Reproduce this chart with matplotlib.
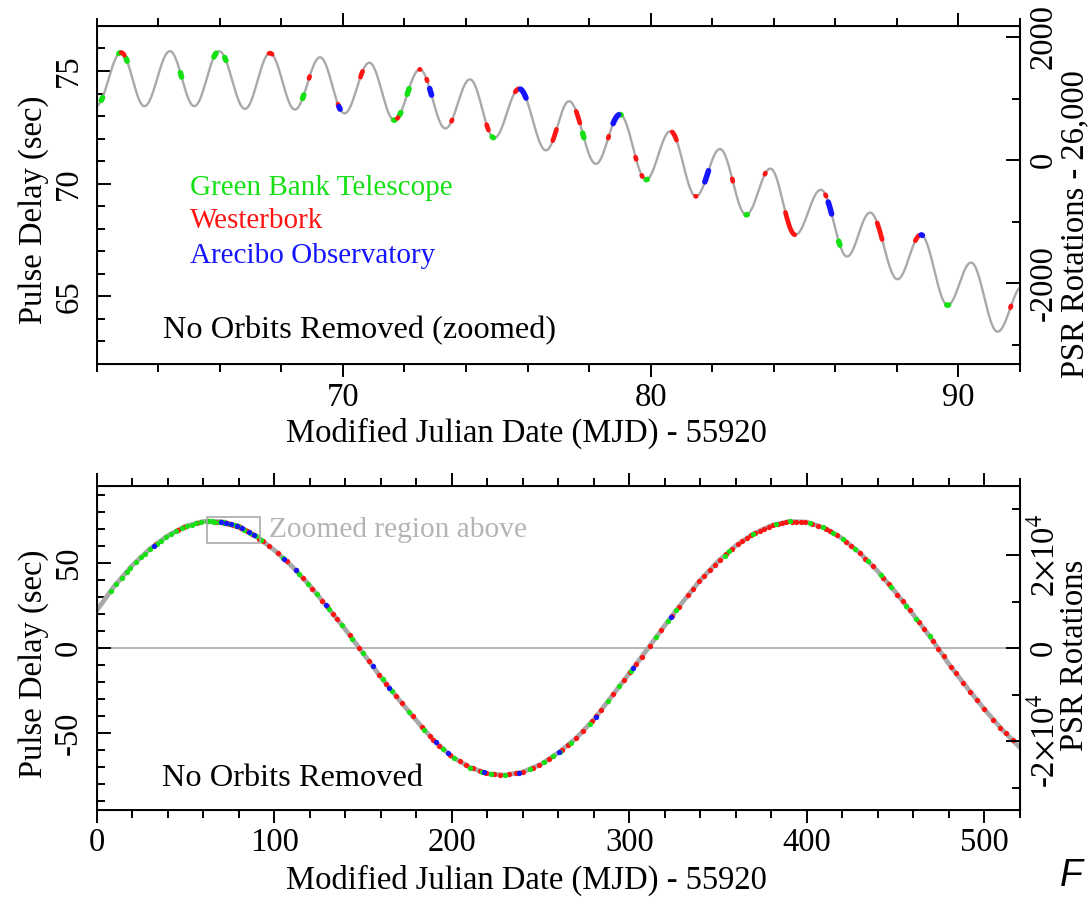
import numpy as np
import matplotlib.pyplot as plt
from matplotlib.patches import Rectangle

plt.rcParams['font.family'] = ['Liberation Serif', 'DejaVu Serif']
plt.rcParams['mathtext.fontset'] = 'stix'
plt.rcParams['axes.unicode_minus'] = False

# pulsar spin period (sec) -> right-hand "PSR Rotations" axes
PSR_PERIOD = 0.0027326
ROT_OFFSET = 26000

GREEN = '#14e014'
RED = '#ff1414'
BLUE = '#1414ff'
GRAY = '#a9a9a9'

# ---- top panel (zoomed) ----
ZOOM_X = (62, 92)
ZOOM_Y = (62, 77)

# turning points of the timing model curve
turn_day = [61.98, 62.79, 63.55, 64.38, 65.17, 65.98, 66.82, 67.63, 68.44, 69.26,
            70.05, 70.86, 71.67, 72.50, 73.33, 74.13, 74.92, 75.73, 76.60, 77.35,
            78.22, 79.00, 79.85, 80.64, 81.47, 82.25, 83.10, 83.89, 84.70, 85.53,
            86.38, 87.13, 88.02, 88.78, 89.65, 90.41, 91.27, 92.08]
turn_delay = [73.45, 75.82, 73.44, 75.88, 73.44, 75.88, 73.32, 75.79, 73.29, 75.61,
              73.12, 75.37, 72.82, 75.07, 72.45, 74.63, 72.03, 74.21, 71.48, 73.66,
              70.88, 73.07, 70.18, 72.33, 69.44, 71.54, 68.62, 70.67, 67.73, 69.73,
              66.77, 68.72, 65.76, 67.73, 64.61, 66.50, 63.43, 65.45]

# observing sessions in the zoomed window (start day, end day)
gbt_sessions = [(62.15, 62.19), (62.72, 62.76), (62.95, 62.99), (64.72, 64.76),
                (65.81, 65.88), (66.16, 66.20), (68.69, 68.73), (71.65, 71.69),
                (71.84, 71.88), (72.09, 72.15), (74.85, 74.89), (77.79, 77.83),
                (79.00, 79.04), (79.85, 79.89), (83.10, 83.14), (86.11, 86.15),
                (89.62, 89.68)]
wsrt_sessions = [(62.80, 62.90), (67.60, 67.70), (68.90, 68.92), (69.84, 69.86),
                 (70.57, 70.64), (71.77, 71.79), (72.49, 72.51), (72.72, 72.74),
                 (73.53, 73.55), (74.67, 74.73), (75.60, 75.72), (76.82, 76.94),
                 (77.58, 77.70), (78.62, 78.64), (79.51, 79.53), (79.71, 79.73),
                 (80.70, 80.84), (81.46, 81.48), (82.65, 82.67), (83.71, 83.73),
                 (84.38, 84.68), (85.68, 85.70), (87.36, 87.52), (88.60, 88.73),
                 (91.69, 91.71)]
ao_sessions = [(69.87, 69.91), (72.82, 72.88), (75.77, 75.95), (78.78, 78.96),
               (81.76, 81.88), (85.77, 85.88), (88.79, 88.83)]

# ---- bottom panel (full span) ----
full_day = list(range(0, 530, 10))
full_delay = [22.0, 36.5, 48.5, 58.3, 66.0, 71.6, 74.4, 74.3, 71.4, 65.6,
              57.6, 48.0, 36.8, 24.0, 11.0, -3.0, -17.0, -30.0, -42.5, -54.5,
              -63.8, -70.0, -73.8, -74.7, -72.8, -68.4, -61.5, -53.0, -42.0, -28.5,
              -14.8, -0.8, 13.3, 27.0, 40.0, 51.0, 60.2, 67.2, 72.0, 74.4,
              74.0, 70.5, 64.3, 55.7, 45.0, 32.7, 19.5, 5.7, -9.5, -23.0,
              -36.0, -48.0, -58.5]

# observation days outside the zoomed window
gbt_days = [8, 11, 14, 17, 19, 22, 25, 27, 30, 34, 36, 39, 42, 44.5, 48, 51, 53.5,
            56, 59, 92.5, 105, 114, 119, 124, 131, 138, 144, 150, 161, 166.5, 176,
            184.5, 195, 201, 210.5, 217, 222, 230, 244, 252, 257, 260.7, 267, 277.6,
            287.9, 294.4, 301, 315.1, 321.7, 326.4, 353.6, 356.4, 369.6, 382.7,
            390.2, 401.5, 409, 414.6, 420.3, 426.9, 434.4, 441.9, 447.5, 456,
            461.6, 469.1]
wsrt_days = [33.5, 46, 49, 56.5, 93.5, 97, 102, 107, 112, 116, 121.5, 127, 129.5,
             133, 135.5, 142.5, 148, 153.5, 159, 163, 168.5, 172, 178, 183, 187.5,
             189.5, 193, 199, 204.5, 208, 212, 216, 219.5, 224, 227, 232.5, 236,
             240, 245.5, 249, 255, 262, 265.5, 270, 274, 279, 281.5, 284, 291, 297,
             300.5, 304, 307, 311.5, 318, 324, 328, 333, 336, 339.5, 342, 345.5,
             348, 351, 354.5, 358, 361, 363.5, 366, 368.5, 371, 373.5, 376, 378.5,
             381, 383.5, 386, 388, 391.5, 394, 396.5, 399, 403, 406, 411, 413, 417,
             422, 425, 430, 433, 437, 443, 446, 451, 454, 458, 463, 466, 471, 474,
             477, 481, 484, 488, 492, 496, 500, 505, 509, 512, 516]
ao_days = [32.3, 105.6, 112, 129, 155.5, 164.8, 191, 197.7, 218, 238, 260.3,
           281.3, 302, 323.6]


def turning_curve(x, tx, ty):
    # smooth line through the turning points (half-cosine between them)
    tx = np.asarray(tx)
    ty = np.asarray(ty)
    i = np.clip(np.searchsorted(tx, x) - 1, 0, len(tx) - 2)
    f = (x - tx[i]) / (tx[i + 1] - tx[i])
    return ty[i] + (ty[i + 1] - ty[i]) * (1 - np.cos(np.pi * f)) / 2


def style_axes(ax, fs=23.5):
    for s in ax.spines.values():
        s.set_linewidth(1.4)
    ax.tick_params(axis='x', which='both', direction='out', top=True,
                   width=1.4, labelsize=fs, pad=3.5)
    ax.tick_params(axis='x', which='major', length=9.5)
    ax.tick_params(axis='x', which='minor', length=5.5)
    ax.tick_params(axis='y', which='both', direction='in', right=False,
                   width=1.4, labelsize=fs, pad=9)
    ax.tick_params(axis='y', which='major', length=10)
    ax.tick_params(axis='y', which='minor', length=5.5)
    for t in ax.get_yticklabels():
        t.set_rotation(90)
        t.set_va('center')


def style_right(axr, fs=23.5):
    axr.tick_params(axis='y', which='both', direction='in', width=1.4,
                    labelsize=fs, pad=6)
    axr.tick_params(axis='y', which='major', length=10)
    axr.tick_params(axis='y', which='minor', length=5.5)
    for t in axr.get_yticklabels():
        t.set_rotation(90)
        t.set_va('center')


fig = plt.figure(figsize=(10.91, 8.98), dpi=100)
ax1 = fig.add_axes([0.0886, 0.5947, 0.8463, 0.3764])
ax2 = fig.add_axes([0.0886, 0.0983, 0.8463, 0.3601])

# ---------------- top panel ----------------
xs = np.linspace(turn_day[0], turn_day[-1], 2000)
ax1.plot(xs, turning_curve(xs, turn_day, turn_delay), color=GRAY, lw=1.7, zorder=2)
for sessions, col, lw in [(gbt_sessions, GREEN, 4.0), (wsrt_sessions, RED, 3.4),
                          (ao_sessions, BLUE, 4.0)]:
    for a, b in sessions:
        d = np.linspace(a, b, 12)
        ax1.plot(d, turning_curve(d, turn_day, turn_delay), color=col, lw=lw,
                 solid_capstyle='round', zorder=3)

ax1.set_xlim(*ZOOM_X)
ax1.set_ylim(*ZOOM_Y)
ax1.set_xticks([70, 80, 90])
ax1.set_xticks(np.arange(62, 93, 2), minor=True)
ax1.set_yticks([65, 70, 75])
ax1.set_yticks(np.arange(62, 78, 1), minor=True)
style_axes(ax1)
ax1.set_xlabel('Modified Julian Date (MJD) - 55920', fontsize=23.5)
ax1.xaxis.set_label_coords(0.466, -0.16)
ax1.set_ylabel('Pulse Delay (sec)', fontsize=23.5)
ax1.yaxis.set_label_coords(-0.052, 0.4556)

ax1r = ax1.twinx()
ax1r.set_ylim(ZOOM_Y[0] / PSR_PERIOD - ROT_OFFSET, ZOOM_Y[1] / PSR_PERIOD - ROT_OFFSET)
ax1r.set_yticks([-2000, 0, 2000])
ax1r.set_yticks([-3000, -1000, 1000], minor=True)
style_right(ax1r)
ax1r.set_ylabel('PSR Rotations - 26,000', fontsize=23.5)
ax1r.yaxis.set_label_coords(1.0433, 0.414)

ax1.text(0.1014, 0.500, 'Green Bank Telescope', color=GREEN, fontsize=21,
         transform=ax1.transAxes, va='baseline')
ax1.text(0.1014, 0.4015, 'Westerbork', color=RED, fontsize=21,
         transform=ax1.transAxes, va='baseline')
ax1.text(0.1014, 0.2997, 'Arecibo Observatory', color=BLUE, fontsize=21,
         transform=ax1.transAxes, va='baseline')
ax1.text(0.0715, 0.076, 'No Orbits Removed (zoomed)', fontsize=23.3,
         transform=ax1.transAxes, va='baseline')

# ---------------- bottom panel ----------------
ax2.axhline(0, color=GRAY, lw=1.2, zorder=1)
ax2.plot(full_day, full_delay, color=GRAY, lw=3.4, zorder=2)

gbt_all = sorted(gbt_days + [(a + b) / 2 for a, b in gbt_sessions])
wsrt_all = sorted(wsrt_days + [(a + b) / 2 for a, b in wsrt_sessions])
ao_all = sorted(ao_days + [(a + b) / 2 for a, b in ao_sessions])
for days, col in [(wsrt_all, RED), (gbt_all, GREEN), (ao_all, BLUE)]:
    ax2.plot(days, np.interp(days, full_day, full_delay), 'o', color=col,
             ms=3.8, mew=0, zorder=3)

ax2.add_patch(Rectangle((ZOOM_X[0], ZOOM_Y[0]), ZOOM_X[1] - ZOOM_X[0],
                        ZOOM_Y[1] - ZOOM_Y[0], fill=False, ec=GRAY, lw=1.2, zorder=4))
ax2.text(97, 65, 'Zoomed region above', color='#b4b4b4', fontsize=21.2, va='baseline')

ax2.set_xlim(0, 520)
ax2.set_ylim(-95, 95)
ax2.set_xticks(np.arange(0, 501, 100))
ax2.set_xticks(np.arange(0, 521, 20), minor=True)
ax2.set_yticks([-50, 0, 50])
ax2.set_yticks(np.arange(-90, 91, 10), minor=True)
style_axes(ax2)
ax2.set_xlabel('Modified Julian Date (MJD) - 55920', fontsize=23.5)
ax2.xaxis.set_label_coords(0.466, -0.17)
ax2.set_ylabel('Pulse Delay (sec)', fontsize=23.5)
ax2.yaxis.set_label_coords(-0.052, 0.4515)

ax2r = ax2.twinx()
ax2r.set_ylim(-95 / PSR_PERIOD, 95 / PSR_PERIOD)
ax2r.set_yticks([-20000, 0, 20000])
ax2r.set_yticklabels([r'-2$\times$10$^4$', '0', r'2$\times$10$^4$'])
ax2r.set_yticks([-30000, -10000, 10000, 30000], minor=True)
style_right(ax2r)
ax2r.set_ylabel('PSR Rotations', fontsize=23.5)
ax2r.yaxis.set_label_coords(1.0433, 0.476)

ax2.text(0.0707, 0.0733, 'No Orbits Removed', fontsize=23.3,
         transform=ax2.transAxes, va='baseline')

fig.text(1060 / 1091, 1 - 886 / 898, 'F', fontsize=27, style='italic',
         family='Liberation Sans', va='baseline')

fig.savefig('out.png', dpi=100)
